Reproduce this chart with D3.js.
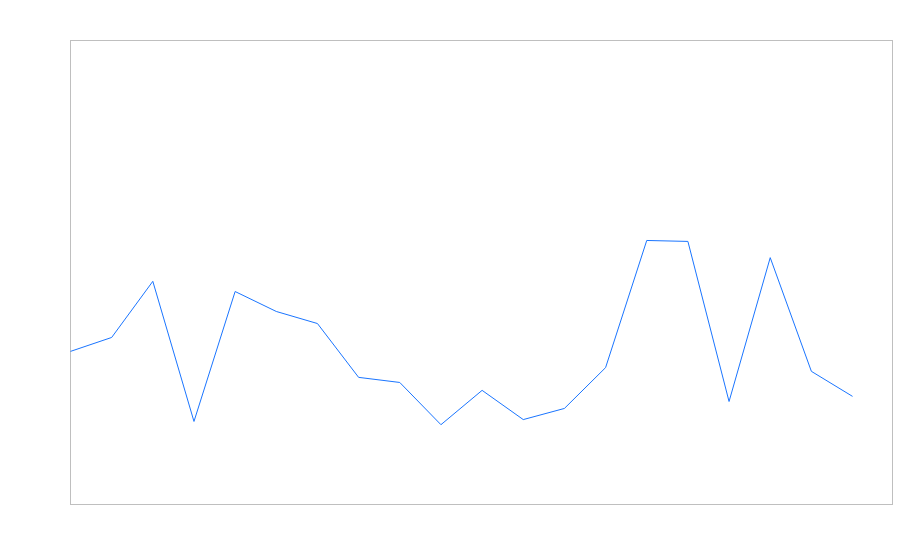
<!DOCTYPE html>
<html>
<head>
<meta charset="utf-8">
<script src="https://cdn.jsdelivr.net/npm/d3@7"></script>
<style>
  body { margin: 0; background: #fff; }
</style>
</head>
<body>
<div id="chart"></div>
<script>
// one value per step
var steps = d3.range(1, 21);
var values = [33.0, 36.0, 48.1, 17.9, 45.9, 41.6, 39.0, 27.4, 26.3, 17.2,
              24.6, 18.3, 20.7, 29.5, 56.9, 56.7, 22.2, 53.2, 28.7, 23.3];

var width = 900, height = 560;
var margin = { top: 40.5, right: 7.5, bottom: 55.5, left: 70.5 };

var svg = d3.select("#chart").append("svg")
    .attr("width", width)
    .attr("height", height);

// band starts give the points; the last band stays empty
var x = d3.scaleBand()
    .domain(steps)
    .range([margin.left, width - 6.3]);

var y = d3.scaleLinear()
    .domain([0, 100])
    .range([height - margin.bottom, margin.top]);

// frame
svg.append("rect")
    .attr("x", margin.left)
    .attr("y", margin.top)
    .attr("width", width - margin.left - margin.right)
    .attr("height", height - margin.top - margin.bottom)
    .attr("fill", "none")
    .attr("stroke", "#bfbfbf")
    .attr("stroke-width", 1);

var line = d3.line()
    .x(function (d, i) { return x(steps[i]); })
    .y(function (d) { return y(d); });

svg.append("path")
    .datum(values)
    .attr("fill", "none")
    .attr("stroke", "#1a75ff")
    .attr("stroke-width", 1)
    .attr("d", line);
</script>
</body>
</html>
